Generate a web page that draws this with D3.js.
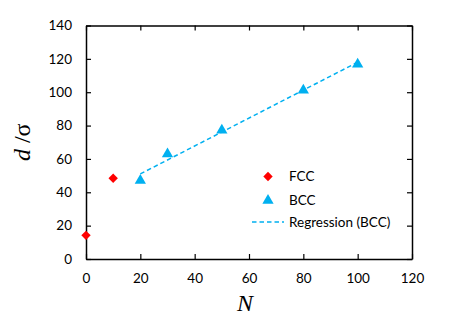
<!DOCTYPE html>
<html><head><meta charset="utf-8">
<script src="https://cdn.jsdelivr.net/npm/d3@7"></script>
<style>body{margin:0;background:#fff}svg{display:block}</style>
</head><body>
<script>
const fccX = [0, 10];
const fccY = [14.2, 48.4];
const bccX = [20, 30, 50, 80, 100];
const bccY = [47, 63, 77.2, 101.2, 116.8];
const regX = [20, 100];
const regY = [51, 118];
const xTicks = [0, 20, 40, 60, 80, 100, 120];
const yTicks = [0, 20, 40, 60, 80, 100, 120, 140];
const legendLabels = ["FCC", "BCC", "Regression (BCC)"];

const W = 452, H = 323;
const L = 86, R = 412, T = 25.5, B = 259;
const svg = d3.select("body").append("svg").attr("width", W).attr("height", H);
const x = d3.scaleLinear().domain([0, 120]).range([L, R]);
const y = d3.scaleLinear().domain([0, 140]).range([B, T]);
const tickFont = "Lato, 'Open Sans', sans-serif";

const gx = svg.append("g").attr("transform", `translate(0,${B})`)
  .call(d3.axisBottom(x).tickValues(xTicks).tickSizeInner(-5).tickSizeOuter(0).tickPadding(14));
const gxt = svg.append("g").attr("transform", `translate(0,${T})`)
  .call(d3.axisTop(x).tickValues(xTicks).tickSizeInner(-5).tickSizeOuter(0).tickFormat(""));
const gy = svg.append("g").attr("transform", `translate(${L},0)`)
  .call(d3.axisLeft(y).tickValues(yTicks).tickSizeInner(-5).tickSizeOuter(0).tickPadding(14));
const gyr = svg.append("g").attr("transform", `translate(${R},0)`)
  .call(d3.axisRight(y).tickValues(yTicks).tickSizeInner(-5).tickSizeOuter(0).tickFormat(""));
[gx, gxt, gy, gyr].forEach(g => {
  g.select(".domain").attr("stroke", "#000").attr("stroke-width", 1.5);
  g.selectAll(".tick line").attr("stroke", "#000").attr("stroke-width", 1.2);
  g.selectAll("text").attr("font-family", tickFont).attr("font-size", 13.5).attr("fill", "#000");
});

const regData = regX.map((v, i) => ({x: v, y: regY[i]}));
svg.append("path").datum(regData)
  .attr("d", d3.line().x(d => x(d.x)).y(d => y(d.y)))
  .attr("fill", "none").attr("stroke", "#00b0f0").attr("stroke-width", 1.5)
  .attr("stroke-dasharray", "4.5,3");

const tri = d3.symbol().type(d3.symbolTriangle).size(55);
const dia = d3.symbol().type(d3.symbolSquare).size(44);

svg.append("g").selectAll("path").data(bccX.map((v, i) => ({x: v, y: bccY[i]})))
  .join("path").attr("d", tri)
  .attr("transform", d => `translate(${x(d.x)},${y(d.y)})`)
  .attr("fill", "#00b0f0");

svg.append("g").selectAll("path").data(fccX.map((v, i) => ({x: v, y: fccY[i]})))
  .join("path").attr("d", dia)
  .attr("transform", d => `translate(${x(d.x)},${y(d.y)}) rotate(45)`)
  .attr("fill", "#ff0000");

const lg = svg.append("g");
lg.append("path").attr("d", dia).attr("transform", "translate(268,176.5) rotate(45)").attr("fill", "#ff0000");
lg.append("path").attr("d", tri).attr("transform", "translate(268,200.5)").attr("fill", "#00b0f0");
lg.append("line").attr("x1", 252).attr("x2", 284).attr("y1", 222).attr("y2", 222)
  .attr("stroke", "#00b0f0").attr("stroke-width", 1.5).attr("stroke-dasharray", "4.5,3");
lg.selectAll("text").data(legendLabels).join("text")
  .attr("x", 289).attr("y", (d, i) => [176.5, 200.5, 222][i]).attr("dy", "0.35em")
  .attr("font-family", tickFont).attr("font-size", 13.5).text(d => d);

svg.append("text").attr("x", 245).attr("y", 311).attr("text-anchor", "middle")
  .attr("font-family", "'Liberation Serif', 'DejaVu Serif', serif").attr("font-style", "italic")
  .attr("font-size", 24).text("N");
const yl = svg.append("text").attr("transform", `translate(30,${(T + B) / 2}) rotate(-90)`)
  .attr("text-anchor", "middle")
  .attr("font-family", "'Liberation Serif', 'DejaVu Serif', serif").attr("font-size", 24);
yl.append("tspan").attr("font-style", "italic").text("d");
yl.append("tspan").text(" /σ");
</script>
</body></html>
